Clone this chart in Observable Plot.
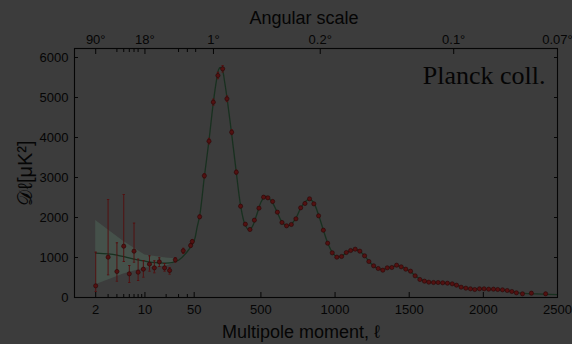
<!DOCTYPE html>
<html>
<head>
<meta charset="utf-8">
<script src="https://cdn.jsdelivr.net/npm/d3@7"></script>
<script src="https://cdn.jsdelivr.net/npm/@observablehq/plot@0.6"></script>
<style>
  html, body { margin: 0; padding: 0; background: #3c3c3c; }
  #chart { width: 572px; height: 344px; overflow: hidden; }
</style>
</head>
<body>
<div id="chart"></div>
<script>
// Low multipoles (log part of the axis): band powers and their error-bar ends
const lowEll  = [2, 3, 4, 5, 6, 7, 8, 9.5, 11.6, 13.6, 16, 19, 22.4, 27, 35, 44.5, 47];
const lowDl   = [292, 1008, 650, 1283, 592, 1158, 633, 708, 833, 742, 892, 742, 675, 942, 1167, 1300, 1400];
const lowHi   = [1133, 2450, 1367, 2575, 800, 1858, 958, 925, 1042, 917, 992, 850, 750, 1000, 1230, 1350, 1450];
const lowLo   = [150, 567, 408, 900, 375, 883, 425, 508, 658, 617, 775, 658, 583, 883, 1100, 1250, 1350];

// High multipoles (linear part of the axis): binned band powers and 1-sigma errors
const highEll = [87, 118.6, 150, 179, 210, 242, 271, 303, 334, 363, 395, 426, 456, 487, 518, 547, 579, 611, 642, 673,
  705, 736, 768, 797, 828, 857, 889, 921, 950, 981, 1012, 1044, 1076, 1105, 1136, 1167, 1199, 1228, 1260, 1291,
  1322, 1352, 1383, 1415, 1446, 1477, 1509, 1540, 1572, 1603, 1632, 1664, 1695, 1726, 1758, 1790, 1819, 1850, 1882,
  1913, 1942, 1974, 2005, 2036, 2068, 2097, 2129, 2161, 2192, 2223, 2264, 2324, 2420];
const highDl  = [2017, 3042, 3908, 4883, 5550, 5717, 4967, 4133, 3133, 2283, 1833, 1700, 1933, 2233, 2508, 2492, 2400, 2133, 1875, 1792,
  1825, 1967, 2242, 2350, 2467, 2342, 2042, 1683, 1358, 1117, 1008, 1025, 1125, 1175, 1208, 1158, 1042, 900, 792, 725,
  683, 742, 750, 808, 767, 708, 658, 542, 450, 408, 383, 375, 375, 367, 358, 342, 308, 258, 233,
  217, 200, 217, 217, 208, 208, 200, 192, 175, 150, 117, 92, 108, 92];
const highErr = [45, 55, 70, 75, 80, 80, 70, 60, 50, 40, 32, 30, 30, 32, 34, 33, 31, 28, 26, 24,
  24, 25, 26, 27, 27, 26, 24, 22, 20, 18, 17, 17, 18, 18, 18, 18, 17, 16, 15, 15,
  15, 15, 15, 15, 15, 15, 14, 14, 14, 14, 14, 14, 14, 14, 15, 15, 15, 15, 16,
  16, 17, 17, 18, 18, 19, 20, 21, 22, 23, 25, 27, 30, 35];

// Best-fit model spectrum
const theoryEll = [2, 3, 4, 5, 7, 10, 14, 20, 25, 30, 40, 50, 70, 87, 100, 118, 150, 180, 200, 215, 226, 240, 255, 271,
  303, 334, 363, 390, 415, 440, 470, 500, 520, 536, 555, 580, 610, 640, 675, 700, 735, 770, 800, 822, 838, 860,
  890, 920, 950, 980, 1010, 1040, 1075, 1110, 1135, 1165, 1200, 1230, 1260, 1290, 1320, 1350, 1385, 1415, 1445,
  1480, 1510, 1540, 1570, 1600, 1640, 1690, 1730, 1790, 1820, 1850, 1880, 1910, 1950, 2000, 2050, 2100, 2150,
  2200, 2250, 2300, 2400, 2500];
const theoryDl = [1110, 1090, 1060, 1020, 960, 910, 870, 860, 880, 930, 1150, 1420, 1760, 2040, 2400, 3000, 3930, 4900, 5420, 5700, 5750, 5690, 5400, 5000,
  4080, 3130, 2300, 1850, 1700, 1760, 2050, 2380, 2500, 2530, 2480, 2360, 2130, 1900, 1790, 1820, 1980, 2250, 2400, 2450, 2440, 2340,
  2050, 1700, 1370, 1140, 1020, 1030, 1110, 1180, 1200, 1160, 1040, 900, 790, 720, 700, 730, 770, 790, 770,
  710, 640, 550, 470, 420, 385, 370, 365, 340, 310, 270, 240, 220, 210, 210, 205, 195, 175,
  145, 110, 95, 85, 70];

// Cosmic-variance band around the model at low multipoles
const bandEll = [2, 5, 10, 20, 30];
const bandHi  = [1925, 1400, 1060, 990, 960];
const bandLo  = [317, 590, 740, 780, 900];

// Axis ticks
const xTickEll   = [2, 10, 50, 500, 1000, 1500, 2000, 2500];
const xMinorEll  = [3, 4, 5, 6, 7, 8, 9, 20, 30, 40];
const angTickEll = [2, 10, 180, 900, 1800, 2500];
const angTickText = ["90°", "18°", "1°", "0.2°", "0.1°", "0.07°"];
const angMinorEll = [4, 5, 6, 7, 8, 30, 40, 60];
const yTicks = [0, 1000, 2000, 3000, 4000, 5000, 6000];

// Hybrid axis: logarithmic below ℓ = 50, linear above
const SWITCH = 50, UNITS_PER_DECADE = 475;
const u = l => l >= SWITCH ? l : SWITCH - UNITS_PER_DECADE * Math.log10(SWITCH / l);

const low = lowEll.map((l, i) => ({l, d: lowDl[i], lo: lowLo[i], hi: lowHi[i]}));
const high = highEll.map((l, i) => ({l, d: highDl[i], lo: highDl[i] - highErr[i], hi: highDl[i] + highErr[i]}));
const points = low.concat(high);
const theory = theoryEll.map((l, i) => ({l, d: theoryDl[i]}));
const band = bandEll.map((l, i) => ({l, lo: bandLo[i], hi: bandHi[i]}));

const xLabel = new Map(xTickEll.map(l => [u(l), String(l)]));
const angLabel = new Map(angTickEll.map((l, i) => [u(l), angTickText[i]]));

// Short horizontal stroke used as an error-bar cap
const capSymbol = { draw(ctx, size) { const w = Math.sqrt(size) / 2; ctx.moveTo(-w, 0); ctx.lineTo(w, 0); } };

const ink = "#050505";
const red = "#521111";

const chart = Plot.plot({
  width: 572,
  height: 344,
  marginLeft: 74,
  marginRight: 15,
  marginTop: 48,
  marginBottom: 47,
  style: { background: "#3c3c3c", color: ink, fontFamily: "Liberation Sans, Arial, sans-serif", fontSize: "13px" },
  x: { type: "linear", domain: [u(1), u(2500)], axis: null },
  y: { domain: [0, 6225], axis: null },
  marks: [
    Plot.areaY(band, { x: d => u(d.l), y1: "lo", y2: "hi", fill: "#45514a" }),
    Plot.line(theory, { x: d => u(d.l), y: "d", stroke: "#18301f", strokeWidth: 1.3, curve: "catmull-rom" }),
    Plot.ruleX(points, { x: d => u(d.l), y1: "lo", y2: "hi", stroke: red, strokeWidth: 1 }),
    Plot.dot(points, { x: d => u(d.l), y: "lo", symbol: capSymbol, r: 1.3, fill: "none", stroke: red, strokeWidth: 1 }),
    Plot.dot(points, { x: d => u(d.l), y: "hi", symbol: capSymbol, r: 1.3, fill: "none", stroke: red, strokeWidth: 1 }),
    Plot.dot(points, { x: d => u(d.l), y: "d", r: 2.1, fill: red, stroke: "#2a0606", strokeWidth: 0.6 }),
    Plot.frame({ stroke: ink, strokeWidth: 1.1 }),
    Plot.axisY(yTicks, { anchor: "left", tickSize: -4, tickPadding: 10, tickFormat: d => String(d), label: null, stroke: ink }),
    Plot.axisY(yTicks, { anchor: "right", tickSize: -4, tickFormat: () => "", label: null, stroke: ink }),
    Plot.axisX(xTickEll.map(u), { anchor: "bottom", tickSize: -5, tickPadding: 12, tickFormat: d => xLabel.get(d), label: null, stroke: ink }),
    Plot.axisX(xMinorEll.map(u), { anchor: "bottom", tickSize: -3, tickFormat: () => "", label: null, stroke: ink }),
    Plot.axisX(angTickEll.map(u), { anchor: "top", tickSize: -5, tickPadding: 10, tickFormat: d => angLabel.get(d), label: null, stroke: ink }),
    Plot.axisX(angMinorEll.map(u), { anchor: "top", tickSize: -3, tickFormat: () => "", label: null, stroke: ink }),
    Plot.text(["Angular scale"], { frameAnchor: "top", dx: -12, dy: -25, fontSize: 18, lineAnchor: "bottom", fill: ink }),
    Plot.text(["Multipole moment, ℓ"], { frameAnchor: "bottom", dx: -15, dy: 40, fontSize: 18, lineAnchor: "bottom", fill: ink }),
    Plot.text(["Planck coll."], { frameAnchor: "top-right", dx: -12, dy: 35, fontSize: 26, textAnchor: "end", lineAnchor: "bottom",
      fontFamily: "Liberation Serif, Times New Roman, serif", fill: ink }),
    Plot.text(["𝒟ℓ[μK²]"], { frameAnchor: "left", dx: -49, rotate: -90, textAnchor: "middle", fontSize: 20, fill: ink, ariaLabel: "ylabel" })
  ]
});

document.getElementById("chart").appendChild(chart);

// Typeset the y label: script D with subscript ℓ, italic μ, superscript 2
const yl = d3.select(chart).select('g[aria-label="ylabel"] text');
yl.text(null);
yl.append("tspan").attr("font-family", "DejaVu Serif, Liberation Serif, serif").attr("font-style", "italic").text("𝒟");
yl.append("tspan").attr("font-size", 14).attr("font-style", "italic").attr("font-family", "Liberation Serif, serif").attr("dy", 4).text("ℓ");
yl.append("tspan").attr("dy", -4).text("[");
yl.append("tspan").attr("font-family", "Liberation Serif, serif").attr("font-style", "italic").text("μ");
yl.append("tspan").text("K");
yl.append("tspan").attr("font-size", 14).attr("dy", -8).text("2");
yl.append("tspan").attr("dy", 8).text("]");
</script>
</body>
</html>
